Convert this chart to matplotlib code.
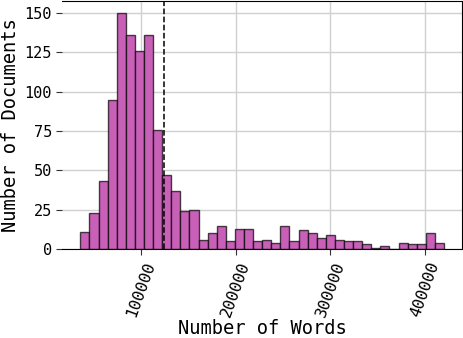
import numpy as np
import matplotlib
matplotlib.use("Agg")
import matplotlib.pyplot as plt

plt.rcParams['font.family'] = ['DejaVu Sans Mono']

# histogram: 40 equal bins between the min and max word count
word_min = 35800
word_max = 420000
counts = [11, 23, 43, 95, 150, 136, 126, 136, 76, 47,
          37, 24, 25, 6, 10, 15, 5, 13, 13, 5,
          6, 4, 15, 5, 12, 10, 7, 9, 6, 5,
          5, 3, 1, 2, 0, 4, 3, 3, 10, 4]
mean_words = 124300
x_ticks = [100000, 200000, 300000, 400000]
y_ticks = [0, 25, 50, 75, 100, 125, 150]

edges = np.linspace(word_min, word_max, len(counts) + 1)

fig, ax = plt.subplots(figsize=(4.64, 3.38), dpi=100)
fig.subplots_adjust(left=0.134, right=0.996, top=0.996, bottom=0.263)

ax.bar(edges[:-1], counts, width=np.diff(edges), align='edge',
       facecolor='#c860b8', edgecolor=(0, 0, 0, 0.7), linewidth=1.0, zorder=2)
ax.axvline(mean_words, color='black', linestyle='--', linewidth=1.1, zorder=3)

ax.set_xticks(x_ticks)
ax.set_xticklabels([str(t) for t in x_ticks], rotation=70, fontsize=11.5)
ax.set_yticks(y_ticks)
ax.set_yticklabels([str(t) for t in y_ticks], fontsize=11)
ax.set_xlabel('Number of Words', fontsize=13.5, labelpad=0.3)
ax.set_ylabel('Number of Documents', fontsize=13.5, labelpad=3)

ax.grid(True, color='#d0d0d0', linewidth=1.0, zorder=0)
ax.set_axisbelow(True)
ax.spines['left'].set_visible(False)
for side in ['top', 'right', 'bottom']:
    ax.spines[side].set_color('black')
ax.tick_params(length=4, color='#333333')

fig.savefig('out.png', dpi=100)
